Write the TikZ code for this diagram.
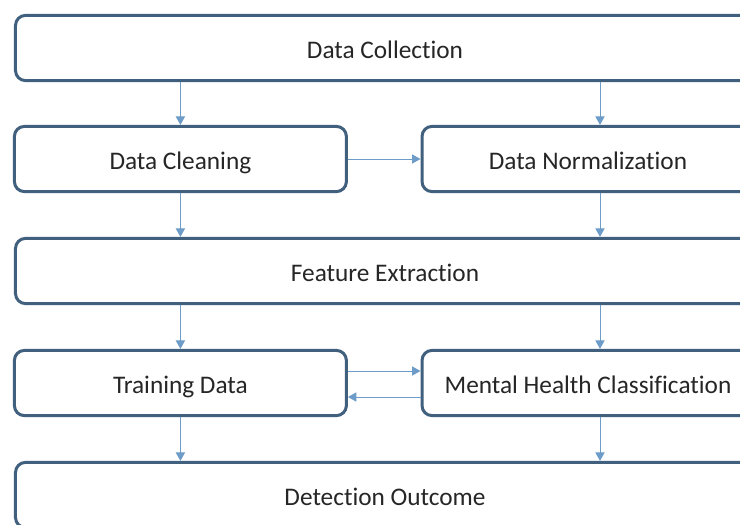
\documentclass[tikz,border=0pt]{standalone}
\usepackage{fontspec}
\setmainfont{Carlito}[Ligatures=NoCommon]
\usetikzlibrary{arrows.meta,positioning}
\definecolor{boxline}{HTML}{41607E}
\definecolor{flowline}{HTML}{6E9CC8}
\tikzset{
    %Define standard arrow tip
    >={Triangle[length=6pt,width=6.5pt]},
    %Define style for boxes
    stagebox/.style={
             rectangle, rounded corners=0.25cm,
             draw=boxline, line width=0.075cm,
             fill=white, text=black!85,
             minimum height=1.63cm,
             text height=15pt, text depth=0pt,
             font=\fontsize{18}{20}\selectfont},
    widebox/.style={
             stagebox, minimum width=18.475cm},
    halfbox/.style={
             stagebox, minimum width=8.3cm},
    % Define arrow style
    flowarrow/.style={
            ->,
            draw=flowline, fill=flowline,
            line width=0.7pt}
}
\begin{document}
\begin{tikzpicture}
 \useasboundingbox (0,0) rectangle (18.5,-13.1);
 \clip (0,0) rectangle (18.5,-13.1);
 \node[widebox] (collect) at (9.625,-1.2) {Data Collection};
 \node[halfbox] (clean) at (4.51,-3.975) {Data Cleaning};
 \node[halfbox] (norm) at (14.7,-3.975) {Data Normalization};
 \node[widebox] (feature) at (9.625,-6.775) {Feature Extraction};
 \node[halfbox] (train) at (4.51,-9.575) {Training Data};
 \node[halfbox] (classify) at (14.7,-9.575) {Mental Health Classification};
 \node[widebox] (outcome) at (9.625,-12.375) {Detection Outcome};
 % left column
 \draw[flowarrow] (collect.south -| clean) -- (clean.north);
 \draw[flowarrow] (clean.south) -- (feature.north -| clean);
 \draw[flowarrow] (feature.south -| train) -- (train.north);
 \draw[flowarrow] (train.south) -- (outcome.north -| train);
 % right column
 \draw[flowarrow] ([xshift=0.3cm]collect.south -| norm) -- ([xshift=0.3cm]norm.north);
 \draw[flowarrow] ([xshift=0.3cm]norm.south) -- ([xshift=0.3cm]feature.north -| norm);
 \draw[flowarrow] ([xshift=0.3cm]feature.south -| classify) -- ([xshift=0.3cm]classify.north);
 \draw[flowarrow] ([xshift=0.3cm]classify.south) -- ([xshift=0.3cm]outcome.north -| classify);
 % across
 \draw[flowarrow] (clean.east) -- (norm.west);
 \draw[flowarrow] ([yshift=0.3cm]train.east) -- ([yshift=0.3cm]classify.west);
 \draw[flowarrow] ([yshift=-0.35cm]classify.west) -- ([yshift=-0.35cm]train.east);
\end{tikzpicture}
\end{document}
